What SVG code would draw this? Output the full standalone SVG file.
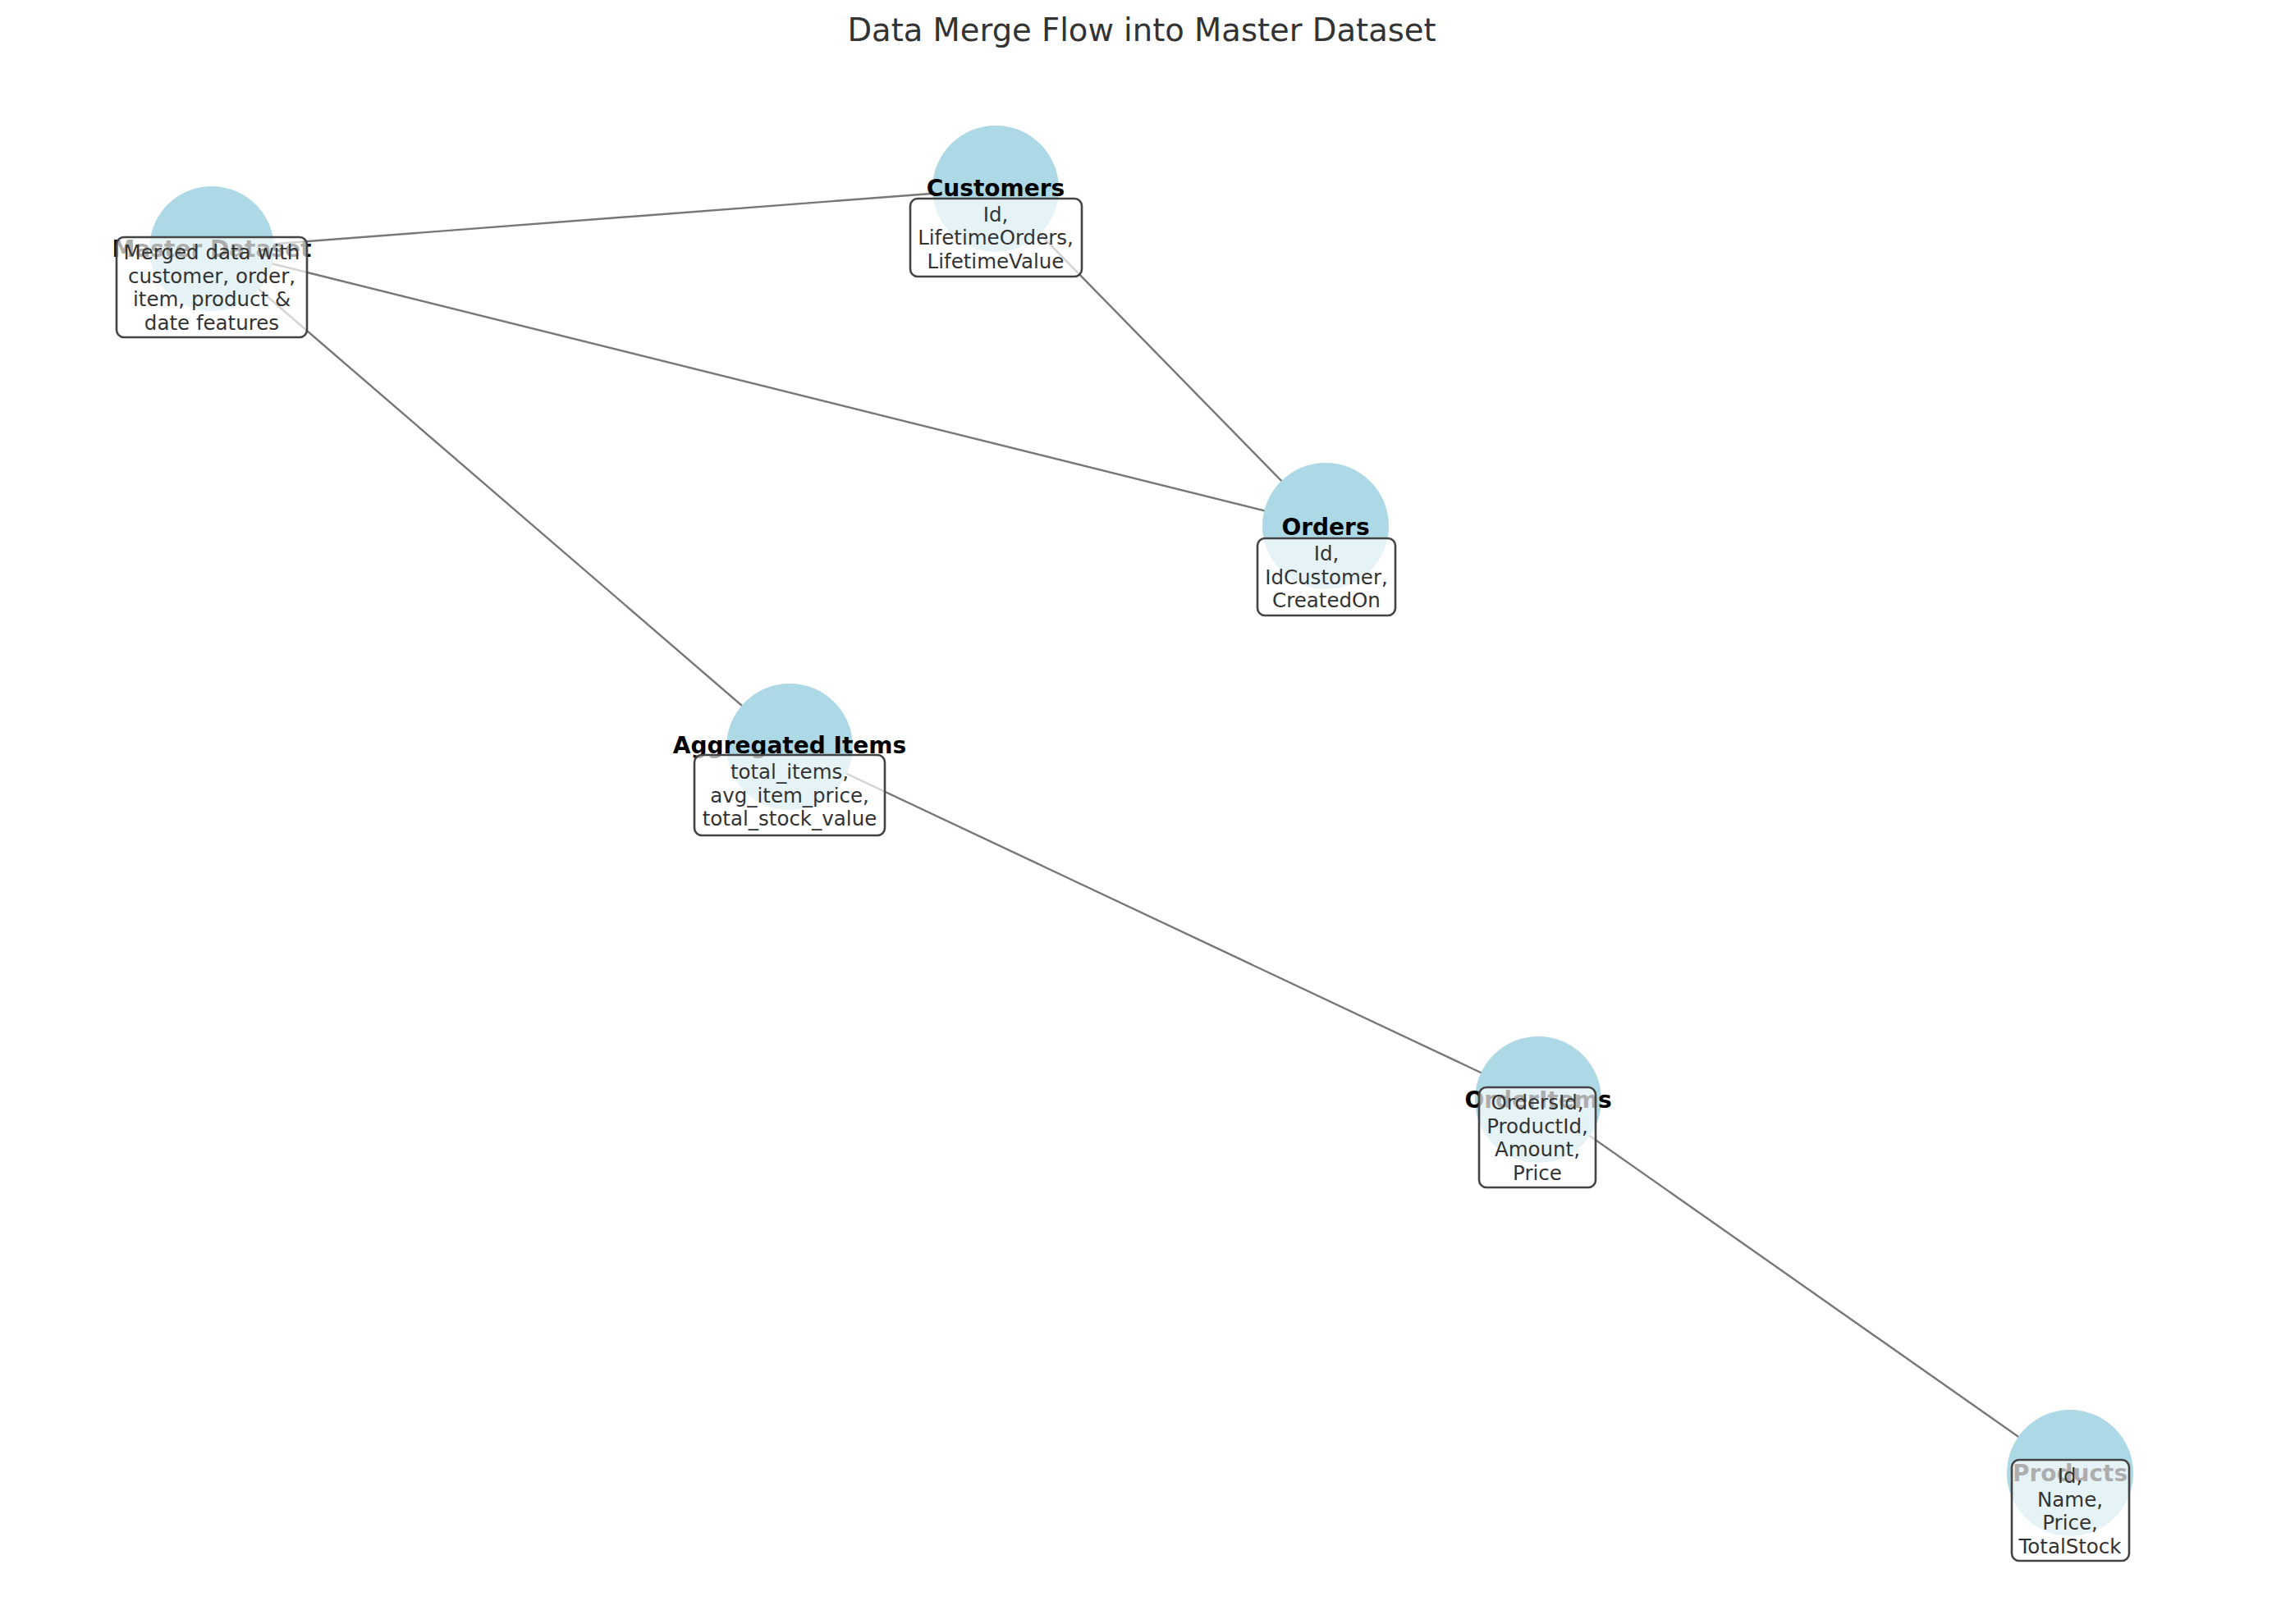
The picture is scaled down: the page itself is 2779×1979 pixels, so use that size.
<svg xmlns="http://www.w3.org/2000/svg" width="2779" height="1979" viewBox="0 0 2779 1979">
  <style>
    .title { font-family: "DejaVu Sans", sans-serif; font-size: 38.5px; fill: #333333; text-anchor: middle; }
    .edge { stroke: #777777; stroke-width: 2.4; fill: none; }
    .node { fill: #ADD8E6; }
    .label { font-family: "DejaVu Sans", sans-serif; font-weight: bold; font-size: 28px; fill: #000000; text-anchor: middle; }
    .box { fill: #ffffff; fill-opacity: 0.68; stroke: #444444; stroke-width: 2.6; }
    .info { font-family: "DejaVu Sans", sans-serif; font-size: 24.5px; fill: #333333; text-anchor: middle; }
  </style>

  <rect x="0" y="0" width="2779" height="1979" fill="#ffffff"/>

  <text class="title" x="1391" y="50">Data Merge Flow into Master Dataset</text>

  <!-- connectors run centre to centre; the node discs cover their ends -->
  <g id="edges">
    <line class="edge" x1="258" y1="303" x2="1213" y2="230"/>
    <line class="edge" x1="258" y1="303" x2="1615" y2="641"/>
    <line class="edge" x1="258" y1="303" x2="962" y2="910"/>
    <line class="edge" x1="1213" y1="230" x2="1615" y2="641"/>
    <line class="edge" x1="962" y1="910" x2="1874" y2="1340"/>
    <line class="edge" x1="1874" y1="1340" x2="2522" y2="1795"/>
  </g>

  <g id="master-dataset">
    <circle class="node" cx="258" cy="303" r="76"/>
    <text class="label" x="258" y="313">Master Dataset</text>
    <rect class="box" x="142" y="289" width="232" height="122" rx="9"/>
    <text class="info" x="258" y="316">Merged data with</text>
    <text class="info" x="258" y="345">customer, order,</text>
    <text class="info" x="258" y="373">item, product &amp;</text>
    <text class="info" x="258" y="402">date features</text>
  </g>

  <g id="customers">
    <circle class="node" cx="1213" cy="230" r="77"/>
    <text class="label" x="1213" y="239">Customers</text>
    <rect class="box" x="1109" y="242" width="209" height="95" rx="9"/>
    <text class="info" x="1213" y="270">Id,</text>
    <text class="info" x="1213" y="298">LifetimeOrders,</text>
    <text class="info" x="1213" y="327">LifetimeValue</text>
  </g>

  <g id="orders">
    <circle class="node" cx="1615" cy="641" r="77"/>
    <text class="label" x="1615" y="652">Orders</text>
    <rect class="box" x="1532" y="656" width="168" height="94" rx="9"/>
    <text class="info" x="1616" y="683">Id,</text>
    <text class="info" x="1616" y="712">IdCustomer,</text>
    <text class="info" x="1616" y="740">CreatedOn</text>
  </g>

  <g id="aggregated-items">
    <circle class="node" cx="962" cy="910" r="77"/>
    <text class="label" x="962" y="918">Aggregated Items</text>
    <rect class="box" x="846" y="920" width="232" height="98" rx="9"/>
    <text class="info" x="962" y="949">total_items,</text>
    <text class="info" x="962" y="978">avg_item_price,</text>
    <text class="info" x="962" y="1006">total_stock_value</text>
  </g>

  <g id="order-items">
    <circle class="node" cx="1874" cy="1340" r="77"/>
    <text class="label" x="1874" y="1350">OrderItems</text>
    <rect class="box" x="1802" y="1325" width="142" height="122" rx="9"/>
    <text class="info" x="1873" y="1352">OrdersId,</text>
    <text class="info" x="1873" y="1381">ProductId,</text>
    <text class="info" x="1873" y="1409">Amount,</text>
    <text class="info" x="1873" y="1438">Price</text>
  </g>

  <g id="products">
    <circle class="node" cx="2522" cy="1795" r="77"/>
    <text class="label" x="2522" y="1805">Products</text>
    <rect class="box" x="2451" y="1779" width="143" height="123" rx="9"/>
    <text class="info" x="2522" y="1807">Id,</text>
    <text class="info" x="2522" y="1836">Name,</text>
    <text class="info" x="2522" y="1864">Price,</text>
    <text class="info" x="2522" y="1893">TotalStock</text>
  </g>
</svg>
